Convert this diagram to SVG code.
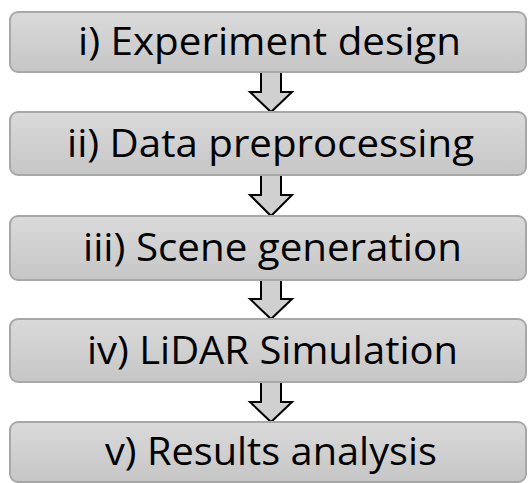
<svg xmlns="http://www.w3.org/2000/svg" width="528" height="483" viewBox="0 0 528 483">
<defs>
<linearGradient id="g" x1="0" y1="0" x2="0" y2="1">
<stop offset="0" stop-color="#dadada"/>
<stop offset="1" stop-color="#c6c6c6"/>
</linearGradient>
<style>
.box{fill:url(#g);stroke:#a8a8a8;stroke-width:2}
.lbl{font-family:"Open Sans","Liberation Sans",sans-serif;font-size:38px;fill:#000}
.arr{fill:#d0d0d0;stroke:#000;stroke-width:2;stroke-linejoin:miter}
</style>
</defs>
<rect width="528" height="483" fill="#fff"/>
<g id="connectors">
<path class="arr" d="M261,72 V92 H250 L271,112 L292,92 H281 V72"/>
<path class="arr" d="M261,175 V195 H250 L271,216 L292,195 H281 V175"/>
<path class="arr" d="M261,280 V299 H250 L271,319 L292,299 H281 V280"/>
<path class="arr" d="M261,382 V402 H250 L271,422 L292,402 H281 V382"/>
</g>
<g id="n1"><rect class="box" x="10" y="12" width="516" height="60" rx="8"/><text class="lbl" x="78" y="55" textLength="383" lengthAdjust="spacingAndGlyphs">i) Experiment design</text></g>
<g id="n2"><rect class="box" x="10" y="112" width="516" height="63" rx="8"/><text class="lbl" x="67" y="157" textLength="407" lengthAdjust="spacingAndGlyphs">ii) Data preprocessing</text></g>
<g id="n3"><rect class="box" x="10" y="216" width="516" height="64" rx="8"/><text class="lbl" x="83" y="261" textLength="379" lengthAdjust="spacingAndGlyphs">iii) Scene generation</text></g>
<g id="n4"><rect class="box" x="10" y="319" width="516" height="63" rx="8"/><text class="lbl" x="87" y="364" textLength="371" lengthAdjust="spacingAndGlyphs">iv) LiDAR Simulation</text></g>
<g id="n5"><rect class="box" x="10" y="422" width="516" height="60" rx="8"/><text class="lbl" x="105" y="465" textLength="332" lengthAdjust="spacingAndGlyphs">v) Results analysis</text></g>
</svg>
